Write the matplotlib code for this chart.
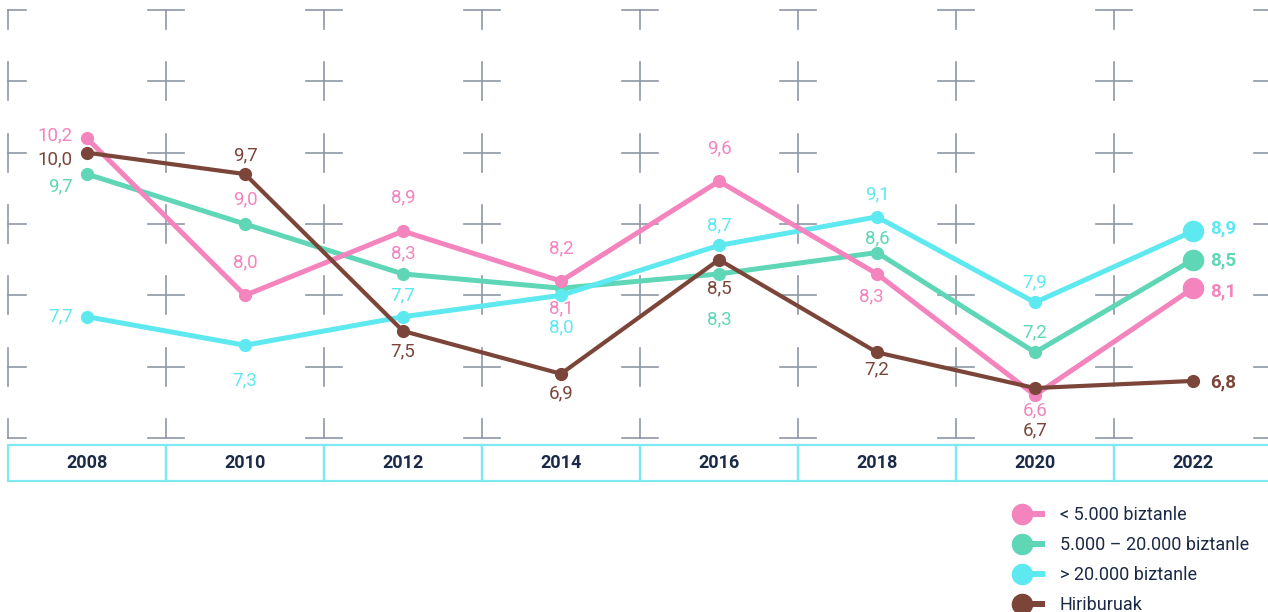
import numpy as np
import matplotlib.pyplot as plt
from matplotlib.lines import Line2D
from matplotlib.patches import Rectangle
from matplotlib.legend_handler import HandlerBase

plt.rcParams['font.family'] = ['Roboto', 'DejaVu Sans']

# data
years = [2008, 2010, 2012, 2014, 2016, 2018, 2020, 2022]
small = [10.2, 8.0, 8.9, 8.2, 9.6, 8.3, 6.6, 8.1]
medium = [9.7, 9.0, 8.3, 8.1, 8.3, 8.6, 7.2, 8.5]
large = [7.7, 7.3, 7.7, 8.0, 8.7, 9.1, 7.9, 8.9]
capitals = [10.0, 9.7, 7.5, 6.9, 8.5, 7.2, 6.7, 6.8]
names = ['< 5.000 biztanle', '5.000 – 20.000 biztanle', '> 20.000 biztanle', 'Hiriburuak']

pink = '#f384bd'
green = '#5fd6b5'
cyan = '#5ee9f0'
brown = '#7b4639'
navy = '#1b2a46'
gridc = '#8c97a4'

# label offsets in pixels (dy up is positive)
small_dy = [3, 33, 34, 33, 33, -22, -15, -3]
medium_dy = [-12, 25, 21, -20, -45, 14, 20, -1]
large_dy = [0, -35, 21, -32, 20, 23, 20, 3]
capitals_dy = [-7, 19, -20, -20, -29, -17, -42, -2]
small_dx = [0, 0, 0, 0, 0, -6, 0, 0]

series = [
    (small, pink, [pink] * 8, small_dy, 3.6, 3),
    (medium, green, [green, pink, pink, pink, green, green, green, green], medium_dy, 3.6, 1),
    (large, cyan, [cyan] * 8, large_dy, 3.6, 2),
    (capitals, brown, [brown] * 8, capitals_dy, 3.0, 4),
]

fig = plt.figure(figsize=(12.68, 6.12), dpi=100)
ax = fig.add_axes([0, 0, 1, 1])
ax.set_xlim(2008 - 87 / 79, 2008 + 1181 / 79)
ax.set_ylim(6 - 174 / 71.33, 6 + 438 / 71.33)
ax.axis('off')

# cross grid
hx = 18 / 79
vy = 19 / 71.33
for x in np.arange(2007, 2024, 2):
    for y in np.arange(6, 13):
        left = x - hx if x > 2007 else x
        bottom = y - vy if y > 6 else y
        top = y + vy if y < 12 else y
        ax.plot([left, x + hx], [y, y], color=gridc, lw=1.2, zorder=0)
        ax.plot([x, x], [bottom, top], color=gridc, lw=1.2, zorder=0)

# year band
for yr in years:
    ax.add_patch(Rectangle((yr - 1, 6 - 43 / 71.33), 2, 36 / 71.33, fill=False,
                           edgecolor='#7ee9ee', lw=1.6, zorder=1))
    ax.text(yr, 6 - 25 / 71.33, str(yr), ha='center', va='center', fontsize=13,
            fontweight='bold', color=navy)

px = 0.72
for vals, col, lcols, dys, lw, z in series:
    ax.plot(years, vals, color=col, lw=lw, marker='o', ms=8.5, zorder=2 + z)
    if col != brown:
        ax.plot(years[-1], vals[-1], 'o', color=col, ms=14.5, zorder=2 + z)
    for i, (yr, v) in enumerate(zip(years, vals)):
        txt = f'{v:.1f}'.replace('.', ',')
        if i == 0:
            ha, dx, fw = 'right', -14, 'normal'
        elif i == len(years) - 1:
            ha, dx, fw = 'left', 17, 'bold'
        else:
            ha, dx, fw = 'center', small_dx[i] if col == pink else 0, 'normal'
        ax.annotate(txt, (yr, v), xytext=(dx * px, dys[i] * px), textcoords='offset points',
                    ha=ha, va='center', fontsize=13.5, color=lcols[i], fontweight=fw, zorder=10)


class Lollipop(HandlerBase):
    def create_artists(self, legend, orig, xd, yd, w, h, fs, trans):
        yc = (h - yd) / 2
        x0 = -xd + 0.33 * w
        line = Line2D([x0, -xd + 0.84 * w], [yc, yc], color=orig.get_color(), lw=4.3,
                      solid_capstyle='butt', transform=trans)
        dot = Line2D([x0], [yc], marker='o', ms=14.5, color=orig.get_color(), lw=0,
                     transform=trans)
        return [line, dot]


handles = [Line2D([], [], color=c) for c in [pink, green, cyan, brown]]
leg = fig.legend(handles, names, loc='upper left', bbox_to_anchor=(1007 / 1268, 1 - 506 / 612),
                 frameon=False, fontsize=13, handlelength=2.49, handletextpad=0.44,
                 labelspacing=0.67, borderpad=0, borderaxespad=0,
                 handler_map={Line2D: Lollipop()})
for t in leg.get_texts():
    t.set_color(navy)

fig.savefig('out.png', dpi=100)
